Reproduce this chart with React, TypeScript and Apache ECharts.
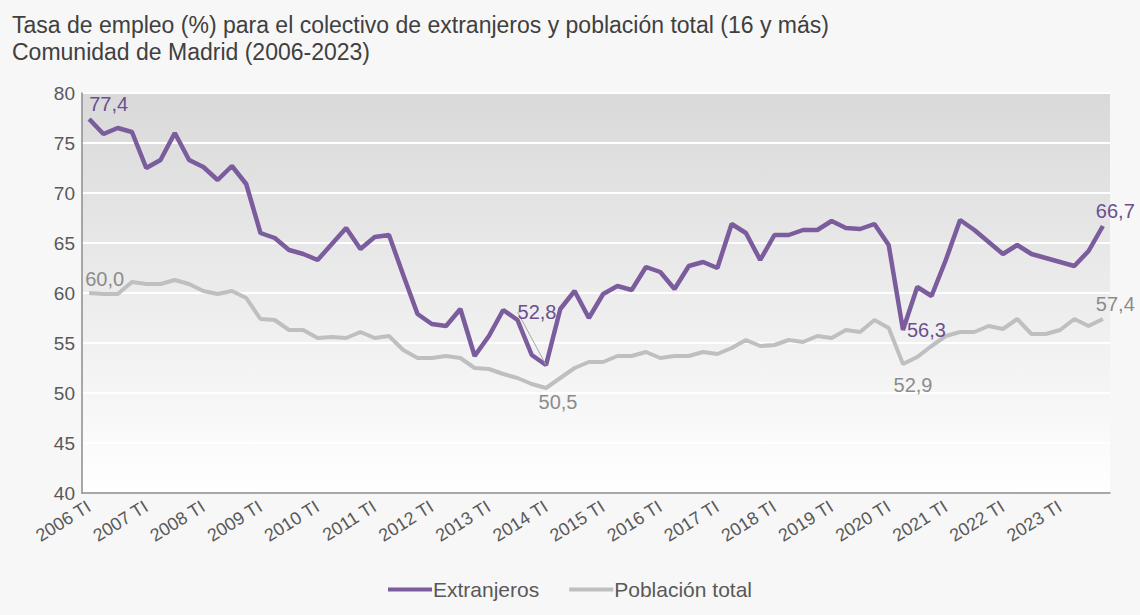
import React, { useEffect, useRef } from "react";
import * as echarts from "echarts";

const years = [2006, 2007, 2008, 2009, 2010, 2011, 2012, 2013, 2014, 2015, 2016, 2017, 2018, 2019, 2020, 2021, 2022, 2023];
const quarters = ["TI", "TII", "TIII", "TIV"];
const categories: string[] = [];
years.forEach((y) => quarters.forEach((q) => categories.push(`${y} ${q}`)));

const extranjeros = [
  77.4, 75.9, 76.5, 76.1, 72.5, 73.3, 76.0, 73.3, 72.6, 71.3, 72.7, 70.9,
  66.0, 65.5, 64.3, 63.9, 63.3, 64.9, 66.5, 64.4, 65.6, 65.8, 61.8, 57.9,
  56.9, 56.7, 58.4, 53.7, 55.7, 58.3, 57.3, 53.8, 52.8, 58.4, 60.2, 57.5,
  59.9, 60.7, 60.3, 62.6, 62.1, 60.4, 62.7, 63.1, 62.5, 66.9, 66.0, 63.3,
  65.8, 65.8, 66.3, 66.3, 67.2, 66.5, 66.4, 66.9, 64.8, 56.3, 60.6, 59.7,
  63.3, 67.3, 66.3, 65.1, 63.9, 64.8, 63.9, 63.5, 63.1, 62.7, 64.2, 66.7,
];

const poblacionTotal = [
  60.0, 59.9, 59.9, 61.1, 60.9, 60.9, 61.3, 60.9, 60.2, 59.9, 60.2, 59.5,
  57.4, 57.3, 56.3, 56.3, 55.5, 55.6, 55.5, 56.1, 55.5, 55.7, 54.3, 53.5,
  53.5, 53.7, 53.5, 52.5, 52.4, 51.9, 51.5, 50.9, 50.5, 51.5, 52.5, 53.1,
  53.1, 53.7, 53.7, 54.1, 53.5, 53.7, 53.7, 54.1, 53.9, 54.5, 55.3, 54.7,
  54.8, 55.3, 55.1, 55.7, 55.5, 56.3, 56.1, 57.3, 56.5, 52.9, 53.6, 54.7,
  55.7, 56.1, 56.1, 56.7, 56.4, 57.4, 55.9, 55.9, 56.3, 57.4, 56.7, 57.4,
];

const FONT = "'Liberation Sans', Arial, sans-serif";
const PURPLE = "#7b5c9d";
const PURPLE_TEXT = "#6b4f8f";
const GRAY = "#bfbfbf";
const GRAY_TEXT = "#8c8c8c";

const fmt = (v: number) => v.toFixed(1).replace(".", ",");

export default function App() {
  const ref = useRef<HTMLDivElement>(null);

  useEffect(() => {
    if (!ref.current) return;
    const chart = echarts.init(ref.current, undefined, { renderer: "svg" });

    const labelBase = { show: true, fontFamily: FONT, fontSize: 20, formatter: (p: any) => fmt(p.value) };

    const extLabels: Record<number, any> = {
      0: { ...labelBase, color: PURPLE_TEXT, position: "top", align: "left", offset: [-1, 4] },
      32: { ...labelBase, color: PURPLE_TEXT, position: "top" },
      57: { ...labelBase, color: PURPLE_TEXT, position: "right", distance: 4 },
      71: { ...labelBase, color: PURPLE_TEXT, position: [-7, -25], align: "left", verticalAlign: "top" },
    };
    const pobLabels: Record<number, any> = {
      0: { ...labelBase, color: GRAY_TEXT, position: "top", align: "left", offset: [-4, 1] },
      32: { ...labelBase, color: GRAY_TEXT, position: "bottom", offset: [12, -1] },
      57: { ...labelBase, color: GRAY_TEXT, position: "bottom", offset: [10, 6] },
      71: { ...labelBase, color: GRAY_TEXT, position: [-7, -25], align: "left", verticalAlign: "top" },
    };

    const extData = extranjeros.map((v, i) =>
      extLabels[i]
        ? {
            value: v,
            label: extLabels[i],
            labelLine: i === 32 ? { show: true, lineStyle: { color: "#a6a6a6", width: 1 } } : undefined,
          }
        : v
    );
    const pobData = poblacionTotal.map((v, i) => (pobLabels[i] ? { value: v, label: pobLabels[i] } : v));

    chart.setOption({
      animation: false,
      backgroundColor: "#f7f7f7",
      textStyle: { fontFamily: FONT },
      title: {
        text: "Tasa de empleo (%) para el colectivo de extranjeros y población total (16 y más)\nComunidad de Madrid (2006-2023)",
        left: 7,
        top: 6,
        textStyle: { fontFamily: FONT, fontSize: 23, fontWeight: "normal", color: "#404040", lineHeight: 27 },
      },
      legend: {
        bottom: 10,
        left: "center",
        icon: "rect",
        itemWidth: 44,
        itemHeight: 4,
        itemGap: 30,
        textStyle: { fontFamily: FONT, fontSize: 21, color: "#595959", padding: [0, 0, 0, -4] },
        data: ["Extranjeros", "Población total"],
      },
      grid: {
        left: 82,
        right: 30,
        top: 93,
        bottom: 122,
        show: true,
        borderWidth: 0,
        backgroundColor: new echarts.graphic.LinearGradient(0, 0, 0, 1, [
          { offset: 0, color: "#d9d9d9" },
          { offset: 1, color: "#ffffff" },
        ]),
      },
      xAxis: {
        type: "category",
        data: categories,
        boundaryGap: true,
        axisLine: { show: true, lineStyle: { color: "#8c8c8c", width: 1.5 } },
        axisTick: { show: false },
        axisLabel: {
          interval: 3,
          rotate: 32,
          fontFamily: FONT,
          fontSize: 18,
          color: "#595959",
          margin: 12,
        },
      },
      yAxis: {
        type: "value",
        min: 40,
        max: 80,
        interval: 5,
        axisLine: { show: true, lineStyle: { color: "#8c8c8c", width: 1.5 } },
        axisTick: { show: false },
        axisLabel: { fontFamily: FONT, fontSize: 19, color: "#595959", margin: 7 },
        splitLine: { show: true, lineStyle: { color: "#ffffff", width: 2 } },
      },
      series: [
        {
          name: "Población total",
          type: "line",
          data: pobData,
          color: GRAY,
          lineStyle: { color: GRAY, width: 4 },
          itemStyle: { color: GRAY },
          symbol: "circle",
          symbolSize: 0,
          showSymbol: true,
          showAllSymbol: true,
          z: 2,
        },
        {
          name: "Extranjeros",
          type: "line",
          data: extData,
          color: PURPLE,
          lineStyle: { color: PURPLE, width: 4.5 },
          itemStyle: { color: PURPLE },
          symbol: "circle",
          symbolSize: 0,
          showSymbol: true,
          showAllSymbol: true,
          labelLayout: (p: any) => (p.dataIndex === 32 ? { dx: -9, dy: -38 } : {}),
          z: 3,
        },
      ],
    });

    return () => chart.dispose();
  }, []);

  return <div ref={ref} style={{ position: "absolute", left: 0, top: 0, width: 1140, height: 615 }} />;
}
